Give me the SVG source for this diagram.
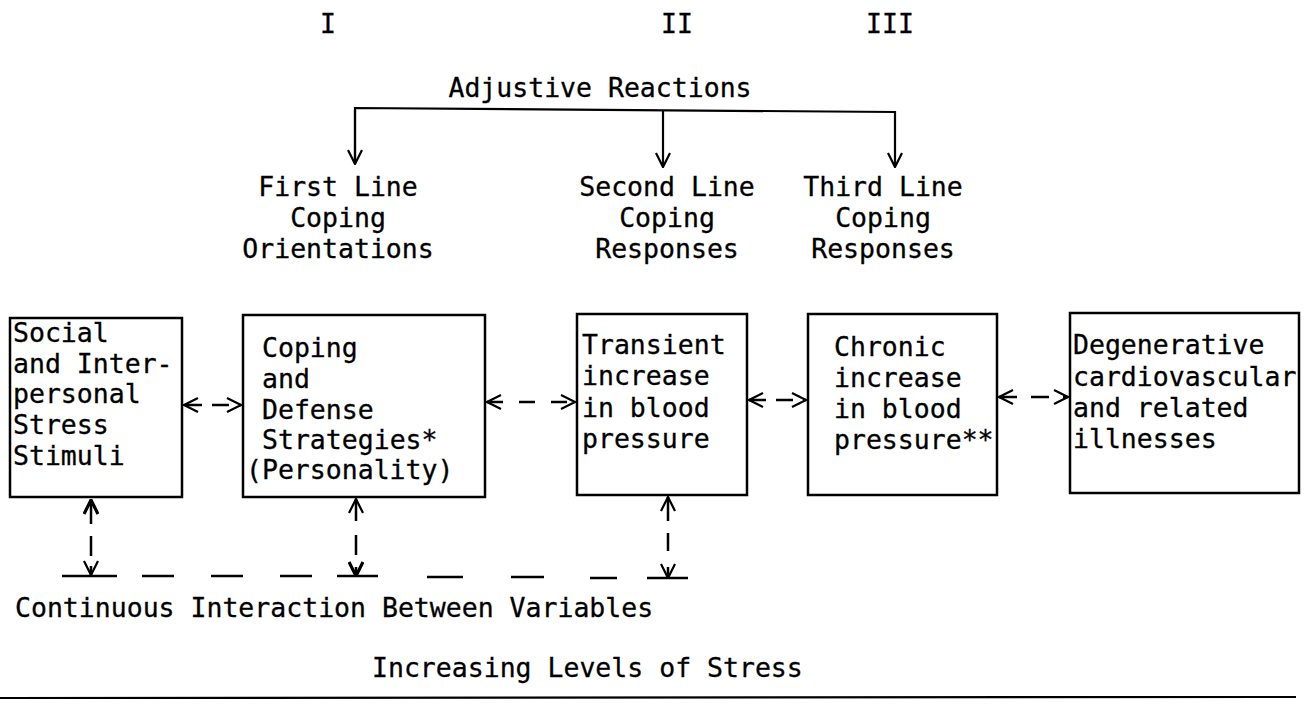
<svg xmlns="http://www.w3.org/2000/svg" width="1309" height="708" viewBox="0 0 1309 708">
<style>
text{font-family:"DejaVu Sans Mono","Liberation Mono",monospace;font-size:26.5px;fill:#000;stroke:#000;stroke-width:0.3}
.box{fill:#fff;stroke:#000;stroke-width:2.5}
.ln{stroke:#000;stroke-width:2.2;fill:none}
.dash{stroke:#000;stroke-width:2.5;fill:none}
.c{text-anchor:middle}
</style>
<defs>
<marker id="ah" viewBox="0 0 16 16" refX="15" refY="8" markerWidth="16" markerHeight="16" markerUnits="userSpaceOnUse" orient="auto-start-reverse">
<path d="M1,1 L15,8 L1,15" fill="none" stroke="#000" stroke-width="2.2"/>
</marker>
<marker id="ahb" viewBox="0 0 16 16" refX="15" refY="8" markerWidth="16" markerHeight="16" markerUnits="userSpaceOnUse" orient="auto-start-reverse">
<path d="M1,1 L15,8 L1,15" fill="none" stroke="#000" stroke-width="3.2"/>
</marker>
</defs>
<g id="numerals">
<text x="328" y="33" class="c">I</text>
<text x="677" y="33" class="c">II</text>
<text x="890" y="33" class="c">III</text>
</g>
<g id="adjustive">
<text x="600" y="97" class="c">Adjustive Reactions</text>
</g>
<g id="first-line">
<text x="338" y="196" class="c">First Line</text>
<text x="338" y="227" class="c">Coping</text>
<text x="338" y="258" class="c">Orientations</text>
</g>
<g id="second-line">
<text x="667" y="196" class="c">Second Line</text>
<text x="667" y="227" class="c">Coping</text>
<text x="667" y="258" class="c">Responses</text>
</g>
<g id="third-line">
<text x="883" y="196" class="c">Third Line</text>
<text x="883" y="227" class="c">Coping</text>
<text x="883" y="258" class="c">Responses</text>
</g>
<g id="box-stimuli">
<rect class="box" x="10" y="318" width="172" height="179"/>
<text x="13" y="342">Social</text>
<text x="13" y="373">and Inter-</text>
<text x="13" y="403">personal</text>
<text x="13" y="434">Stress</text>
<text x="13" y="465">Stimuli</text>
</g>
<g id="box-coping">
<rect class="box" x="243" y="315" width="242" height="182"/>
<text x="262" y="357">Coping</text>
<text x="262" y="388">and</text>
<text x="262" y="419">Defense</text>
<text x="262" y="449">Strategies*</text>
<text x="246" y="479">(Personality)</text>
</g>
<g id="box-transient">
<rect class="box" x="577" y="314" width="170" height="181"/>
<text x="582" y="354">Transient</text>
<text x="582" y="385">increase</text>
<text x="582" y="417">in blood</text>
<text x="582" y="448">pressure</text>
</g>
<g id="box-chronic">
<rect class="box" x="808" y="314" width="189" height="181"/>
<text x="834" y="356">Chronic</text>
<text x="834" y="387">increase</text>
<text x="834" y="418">in blood</text>
<text x="834" y="449">pressure**</text>
</g>
<g id="box-degenerative">
<rect class="box" x="1070" y="313" width="229" height="180"/>
<text x="1073" y="354">Degenerative</text>
<text x="1073" y="386">cardiovascular</text>
<text x="1073" y="417">and related</text>
<text x="1073" y="448">illnesses</text>
</g>
<g id="continuous">
<text x="15" y="617">Continuous Interaction Between Variables</text>
</g>
<g id="increasing">
<text x="372" y="677">Increasing Levels of Stress</text>
</g>
<g id="connectors">
<polyline class="ln" points="355,163 355,108 895,112 895,167" marker-end="url(#ah)"/>
<polyline class="ln" points="355,110 355,164" marker-end="url(#ah)"/>
<line class="ln" x1="663" y1="110" x2="663" y2="167" marker-end="url(#ah)"/>
<line class="dash" x1="184" y1="405" x2="241" y2="405" stroke-dasharray="17 10" stroke-dashoffset="-1" marker-start="url(#ah)" marker-end="url(#ah)"/>
<line class="dash" x1="487" y1="402" x2="575" y2="402" stroke-dasharray="16 16" marker-start="url(#ah)" marker-end="url(#ah)"/>
<line class="dash" x1="749" y1="400" x2="806" y2="400" stroke-dasharray="17 10" marker-start="url(#ah)" marker-end="url(#ah)"/>
<line class="dash" x1="999" y1="397" x2="1068" y2="397" stroke-dasharray="18 14" marker-start="url(#ah)" marker-end="url(#ah)"/>
<line class="dash" x1="91" y1="500" x2="91" y2="575" stroke-dasharray="24 12 20 10 30" marker-start="url(#ahb)" marker-end="url(#ah)"/>
<line class="dash" x1="356" y1="499" x2="356" y2="576" stroke-dasharray="22 14 20 12 30" marker-start="url(#ah)" marker-end="url(#ahb)"/>
<line class="dash" x1="668" y1="497" x2="668" y2="578" stroke-dasharray="24 12 18 16 30" marker-start="url(#ah)" marker-end="url(#ah)"/>
<path class="dash" d="M62,576 H117 M142,576 H174 M211,576 H243 M280,576 H312 M337,576 H378 M427,577 H463 M511,577 H544 M590,578 H617 M647,578 H688"/>
<line class="ln" x1="0" y1="698" x2="1296" y2="697"/>
</g>
</svg>
